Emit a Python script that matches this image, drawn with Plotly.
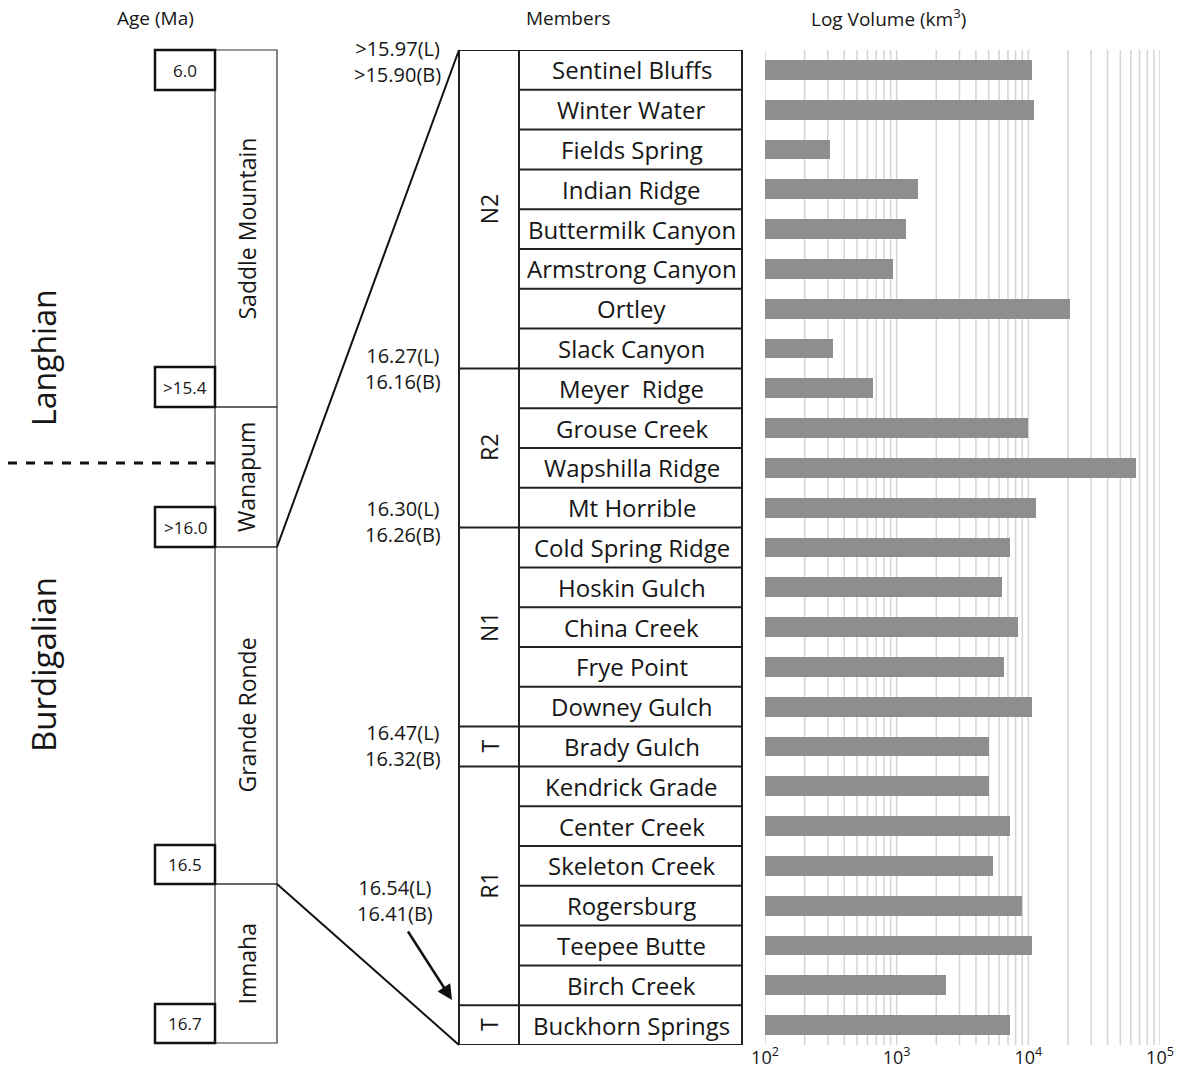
import plotly.graph_objects as go

W, H = 1189, 1069

members = ["Sentinel Bluffs", "Winter Water", "Fields Spring", "Indian Ridge", "Buttermilk Canyon",
           "Armstrong Canyon", "Ortley", "Slack Canyon", "Meyer  Ridge", "Grouse Creek",
           "Wapshilla Ridge", "Mt Horrible", "Cold Spring Ridge", "Hoskin Gulch", "China Creek",
           "Frye Point", "Downey Gulch", "Brady Gulch", "Kendrick Grade", "Center Creek",
           "Skeleton Creek", "Rogersburg", "Teepee Butte", "Birch Creek", "Buckhorn Springs"]
volumes = [10700, 11000, 310, 1450, 1180, 940, 20800, 330, 660, 9900, 65600, 11400, 7200,
           6300, 8300, 6500, 10600, 5000, 5000, 7200, 5400, 8900, 10600, 2350, 7200]

# magnetostratigraphic groups: (label, first row index, last row index)
groups = [("N2", 0, 7), ("R2", 8, 11), ("N1", 12, 16), ("T", 17, 17), ("R1", 18, 23), ("T", 24, 24)]

# formations: (name, top px, bottom px)
formations = [("Saddle Mountain", 50, 407), ("Wanapum", 407, 547), ("Grande Ronde", 547, 884), ("Imnaha", 884, 1043)]
age_boxes = [("6.0", 50, 90), (">15.4", 367, 407), (">16.0", 507, 547), ("16.5", 845, 884), ("16.7", 1004, 1043)]
date_labels = [((">15.97(L)", ">15.90(B)"), 397, 61), (("16.27(L)", "16.16(B)"), 403, 368),
               (("16.30(L)", "16.26(B)"), 403, 521), (("16.47(L)", "16.32(B)"), 403, 745),
               (("16.54(L)", "16.41(B)"), 395, 900)]

tick_vals = [100, 1000, 10000, 100000]
tick_text = ["10<sup>2</sup>", "10<sup>3</sup>", "10<sup>4</sup>", "10<sup>5</sup>"]
minor_vals = [m * 10 ** e for e in (2, 3, 4) for m in range(2, 10)]

FONT = "Open Sans"
TXT = "#161616"


def px(x):
    return x / W


def py(y):
    return 1 - y / H


def label(x, y, text, size, angle=0, xref="paper", yref="paper"):
    return dict(x=x, y=y, xref=xref, yref=yref, text=text, showarrow=False, textangle=angle,
                xanchor="center", yanchor="middle", align="center",
                font=dict(family=FONT, size=size, color=TXT))


fig = go.Figure()
fig.add_trace(go.Bar(x=volumes, y=members, orientation="h", width=0.5,
                     marker=dict(color="#8e8e8e", line=dict(width=0)), showlegend=False))

shapes = []
ann = []

# minor/major vertical grid lines
for v in minor_vals + tick_vals:
    shapes.append(dict(type="line", xref="x", yref="y", x0=v, x1=v, y0=-0.5, y1=24.5,
                       line=dict(color="#d4d4d4", width=1.5), layer="below"))

# member table
TL, TM, TR = 459, 519, 742
shapes.append(dict(type="rect", xref="paper", yref="y", x0=px(TL), x1=px(TR), y0=-0.5, y1=24.5,
                   line=dict(color="#222", width=2)))
shapes.append(dict(type="line", xref="paper", yref="y", x0=px(TM), x1=px(TM), y0=-0.5, y1=24.5,
                   line=dict(color="#222", width=2)))
group_bounds = [g[2] + 0.5 for g in groups[:-1]]
for i in range(len(members) - 1):
    b = i + 0.5
    x0 = TL if b in group_bounds else TM
    shapes.append(dict(type="line", xref="paper", yref="y", x0=px(x0), x1=px(TR), y0=b, y1=b,
                       line=dict(color="#222", width=2)))
for i, m in enumerate(members):
    ann.append(label(px((TM + TR) / 2 + 1), i, m, 24, yref="y"))
for g, a, b in groups:
    ann.append(label(px((TL + TM) / 2), (a + b) / 2, g, 23, angle=-90, yref="y"))

# formation column
FL, FR = 215, 277
for name, t, b in formations:
    shapes.append(dict(type="rect", xref="paper", yref="paper", x0=px(FL), x1=px(FR), y0=py(b), y1=py(t),
                       line=dict(color="#333", width=1.2)))
    ann.append(label(px((FL + FR) / 2), py((t + b) / 2), name, 23, angle=-90))
# age boxes
for lab, t, b in age_boxes:
    shapes.append(dict(type="rect", xref="paper", yref="paper", x0=px(155), x1=px(FL), y0=py(b), y1=py(t),
                       line=dict(color="#111", width=2.5)))
    ann.append(label(px(185), py((t + b) / 2), lab, 17))

# zoom lines from formations to the table
shapes.append(dict(type="line", xref="paper", yref="paper", x0=px(FR), y0=py(547), x1=px(TL), y1=py(50),
                   line=dict(color="#111", width=2)))
shapes.append(dict(type="line", xref="paper", yref="paper", x0=px(FR), y0=py(884), x1=px(TL), y1=py(1045),
                   line=dict(color="#111", width=2)))

# stage boundary
shapes.append(dict(type="line", xref="paper", yref="paper", x0=px(8), x1=px(FL), y0=py(463), y1=py(463),
                   line=dict(color="#111", width=3, dash="dash")))
ann.append(label(px(43), py(358), "Langhian", 32, angle=-90))
ann.append(label(px(43), py(665), "Burdigalian", 33, angle=-90))

# date labels
for (l1, l2), x, y in date_labels:
    ann.append(label(px(x), py(y), l1 + "<br>" + l2, 20))

# arrow
ann.append(dict(x=px(452), y=py(1000), xref="paper", yref="paper", ax=-45, ay=-70, text="", showarrow=True,
                arrowhead=2, arrowsize=1.2, arrowwidth=2.5, arrowcolor="#111"))

# headers
ann.append(label(px(155), py(18), "Age (Ma)", 19))
ann.append(label(px(568), py(18), "Members", 19))
ann.append(label(px(888), py(18), "Log Volume (km<sup>3</sup>)", 19))

fig.update_layout(
    width=W, height=H, autosize=False, margin=dict(l=0, r=0, t=0, b=0, pad=0, autoexpand=False),
    paper_bgcolor="white", plot_bgcolor="white",
    shapes=shapes, annotations=ann, bargap=0,
    xaxis=dict(type="log", range=[2, 5], domain=[px(765), px(1160)], tickvals=tick_vals, ticktext=tick_text,
               showgrid=False, zeroline=False, showline=False, ticks="", automargin=False,
               tickfont=dict(family=FONT, size=18, color=TXT)),
    yaxis=dict(type="category", categoryorder="array", categoryarray=members, range=[24.5, -0.5],
               domain=[py(1045), py(50)], showticklabels=False, showgrid=False, zeroline=False,
               showline=False, ticks="", automargin=False),
)

fig.write_html("out.html", config={"displayModeBar": False},
               post_script="document.body.style.margin='0';")
